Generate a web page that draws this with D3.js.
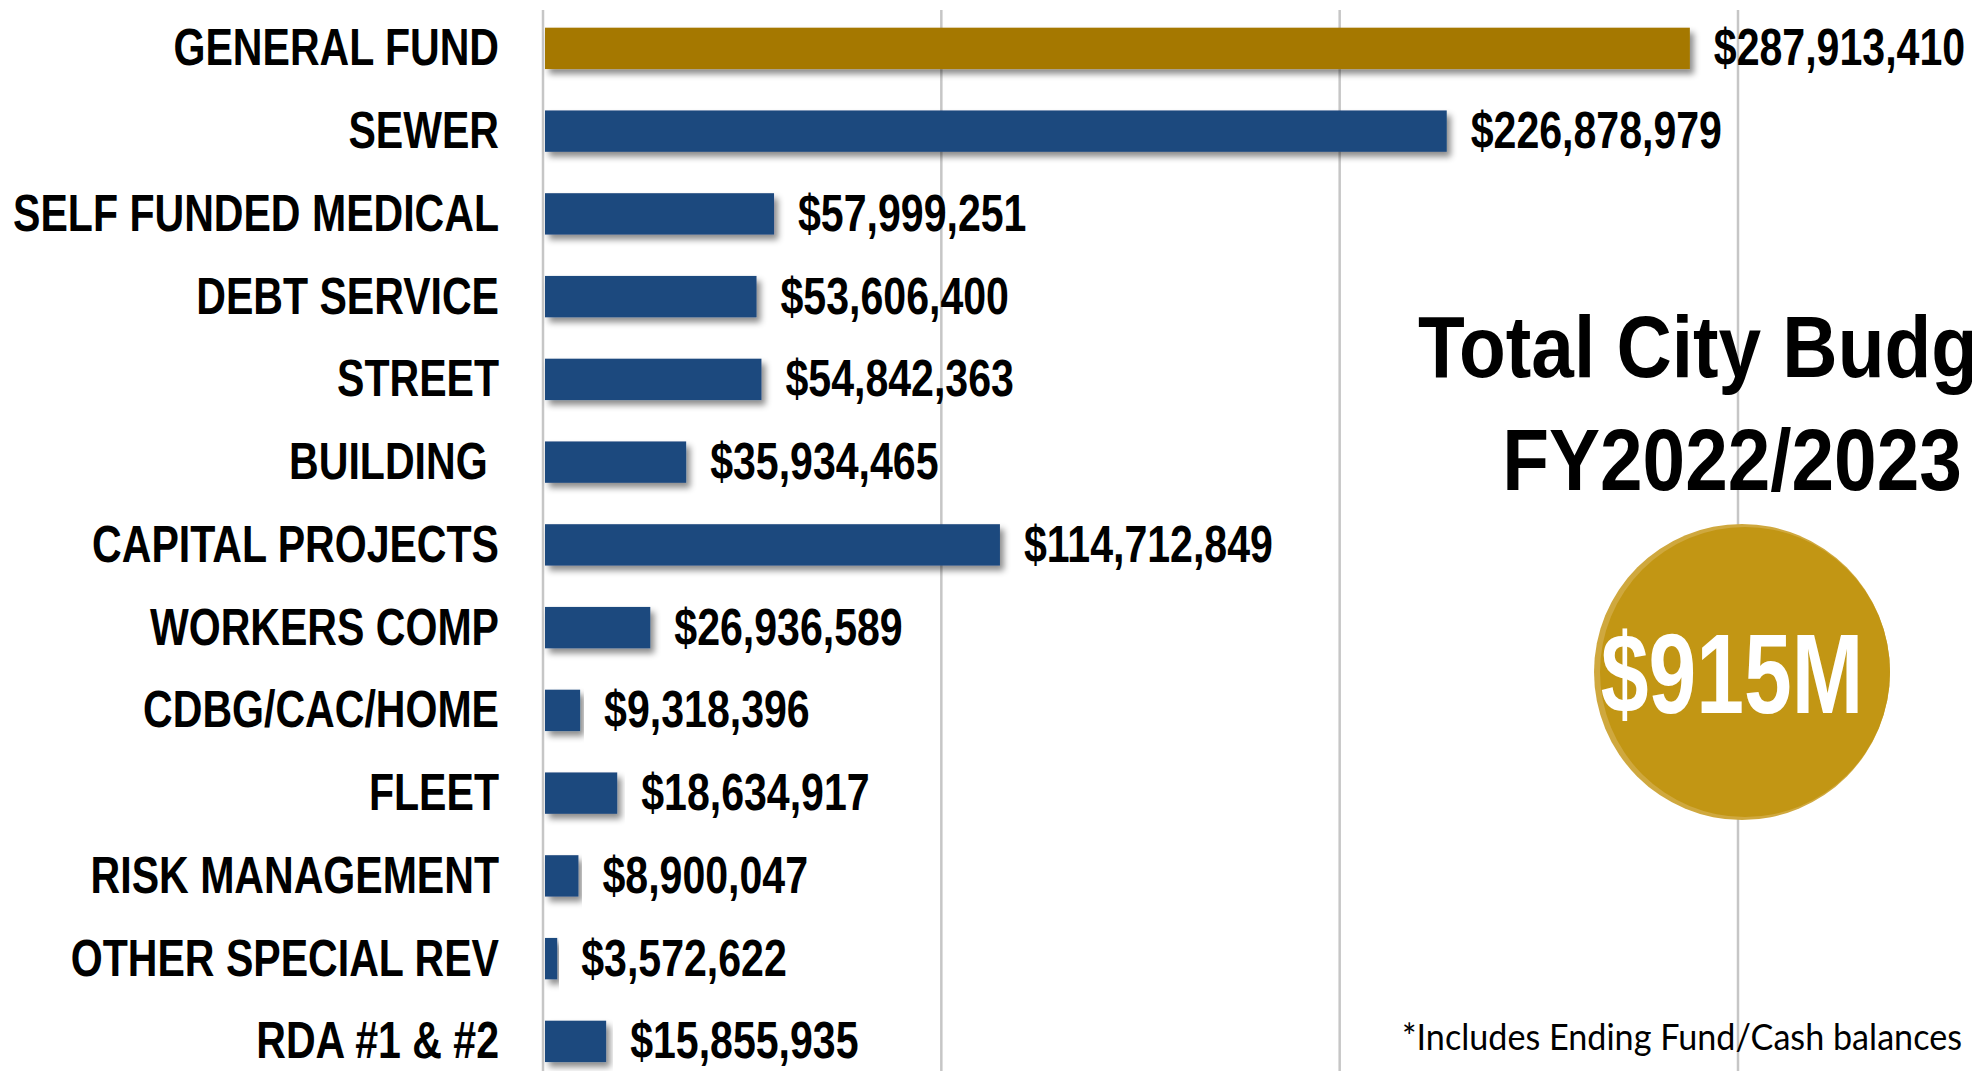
<!DOCTYPE html>
<html>
<head>
<meta charset="utf-8">
<script src="https://cdn.jsdelivr.net/npm/d3@7"></script>
<style>
  body { margin: 0; background: #fff; }
  svg#mainSvg { display: block; background: #fff; }
  text.bold { font-family: "Liberation Sans", Arial, sans-serif; font-weight: bold; fill: #000; }
</style>
</head>
<body>
<svg id="mainSvg" width="1972" height="1071"></svg>
<script>
// Data
const funds = [
  "GENERAL FUND", "SEWER", "SELF FUNDED MEDICAL", "DEBT SERVICE", "STREET",
  "BUILDING ", "CAPITAL PROJECTS", "WORKERS COMP", "CDBG/CAC/HOME", "FLEET",
  "RISK MANAGEMENT", "OTHER SPECIAL REV", "RDA #1 & #2"
];
const amounts = [
  287913410, 226878979, 57999251, 53606400, 54842363,
  35934465, 114712849, 26936589, 9318396, 18634917,
  8900047, 3572622, 15855935
];
const highlightFund = "GENERAL FUND";
const gridTicks = [0, 100e6, 200e6, 300e6];
const titleLines = ["Total City Budget", "FY2022/2023"];
const totalLabel = "$915M";
const footnote = "*Includes Ending Fund/Cash balances";

const W = 1972, H = 1071;
const svg = d3.select("#mainSvg");
const squeeze = 0.79;   // narrow bold look
const labelSize = 52;

// shadow under bars
const defs = svg.append("defs");
defs.append("filter").attr("id", "shadow")
  .attr("x", "-5%").attr("y", "-30%").attr("width", "115%").attr("height", "180%")
  .append("feDropShadow")
  .attr("dx", 4).attr("dy", 5).attr("stdDeviation", 3)
  .attr("flood-color", "#000").attr("flood-opacity", 0.45);

const x = d3.scaleLinear().domain([0, 300e6]).range([543, 1738]);
const y = d3.scaleBand().domain(funds).range([7, 7 + 13 * 82.75])
  .paddingInner(0.5).paddingOuter(0.25);

// grid lines
svg.append("g").selectAll("line")
  .data(gridTicks).enter().append("line")
  .attr("x1", d => x(d)).attr("x2", d => x(d))
  .attr("y1", 10).attr("y2", H)
  .attr("stroke", "#c6c6c6").attr("stroke-width", 2.5);

// bars
svg.append("g").selectAll("rect")
  .data(amounts).enter().append("rect")
  .attr("x", x(0) + 2)
  .attr("y", (d, i) => y(funds[i]))
  .attr("width", d => x(d) - x(0) - 2)
  .attr("height", y.bandwidth())
  .attr("fill", (d, i) => funds[i] === highlightFund ? "#A57803" : "#1F4A7E")
  .attr("filter", "url(#shadow)");

const capH = 34;
function rowBase(i) { return y(funds[i]) + y.bandwidth() / 2 + capH / 2; }

// category labels
svg.append("g").selectAll("g")
  .data(funds).enter().append("g")
  .attr("transform", (d, i) => "translate(499," + rowBase(i) + ") scale(" + squeeze + ",1)")
  .append("text")
  .attr("class", "bold")
  .attr("xml:space", "preserve")
  .style("white-space", "pre")
  .attr("font-size", labelSize)
  .attr("text-anchor", "end")
  .text(d => d);

// value labels
const fmt = d3.format("$,");
svg.append("g").selectAll("g")
  .data(amounts).enter().append("g")
  .attr("transform", (d, i) => "translate(" + (x(d) + 24) + "," + rowBase(i) + ") scale(" + squeeze + ",1)")
  .append("text")
  .attr("class", "bold")
  .attr("font-size", labelSize)
  .text(d => fmt(d));

// title
svg.append("g").selectAll("g")
  .data(titleLines).enter().append("g")
  .attr("transform", (d, i) => "translate(1732," + (377 + i * 113) + ") scale(0.87,1)")
  .append("text")
  .attr("class", "bold")
  .attr("font-size", 88)
  .attr("text-anchor", "middle")
  .text(d => d);

// total circle, with a light rim on its left side
svg.append("circle")
  .attr("cx", 1742).attr("cy", 672).attr("r", 148)
  .attr("fill", "#CFA83E");
svg.append("circle")
  .attr("cx", 1745).attr("cy", 672).attr("r", 145)
  .attr("fill", "#C29614");
svg.append("g")
  .attr("transform", "translate(1732,713) scale(0.76,1)")
  .append("text")
  .attr("class", "bold")
  .attr("font-size", 113)
  .attr("text-anchor", "middle")
  .style("fill", "#fff")
  .text(totalLabel);

// footnote
svg.append("text")
  .attr("x", 1402).attr("y", 1050)
  .attr("font-family", "Lato, 'Open Sans', sans-serif")
  .attr("font-size", 37)
  .attr("fill", "#000")
  .attr("textLength", 560)
  .attr("lengthAdjust", "spacingAndGlyphs")
  .text(footnote);
</script>
</body>
</html>
